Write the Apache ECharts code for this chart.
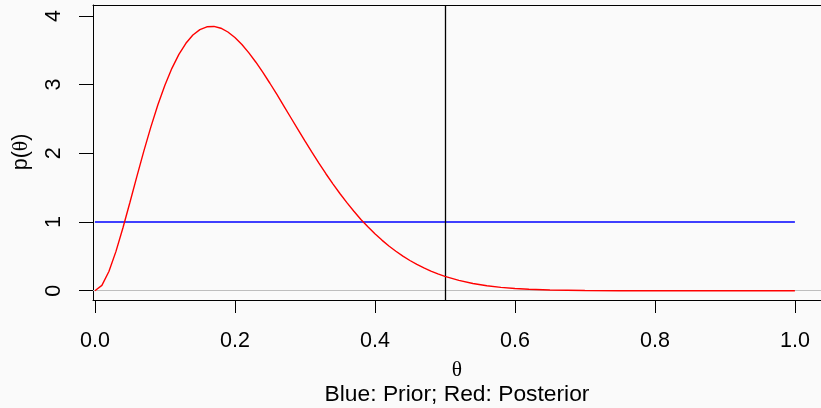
<!DOCTYPE html>
<html><head><meta charset="utf-8">
<script src="https://cdn.jsdelivr.net/npm/echarts@6/dist/echarts.min.js"></script>
<style>html,body{margin:0;padding:0;background:#fafafa}#c{width:821px;height:408px}</style>
</head><body><div id="c"></div>
<script>
// Posterior density (theta, p(theta))
const thetaPost = [0.00,0.01,0.02,0.03,0.04,0.05,0.06,0.07,0.08,0.09,0.10,0.11,0.12,0.13,0.14,0.15,0.16,0.17,0.18,0.19,0.20,0.21,0.22,0.23,0.24,0.25,0.26,0.27,0.28,0.29,0.30,0.31,0.32,0.33,0.34,0.35,0.36,0.37,0.38,0.39,0.40,0.41,0.42,0.43,0.44,0.45,0.46,0.47,0.48,0.49,0.50,0.52,0.54,0.56,0.58,0.60,0.62,0.65,0.70,0.75,0.80,0.90,1.00];
const posterior = [0,0.078,0.280,0.569,0.913,1.284,1.664,2.035,2.385,2.706,2.992,3.237,3.441,3.602,3.722,3.801,3.842,3.847,3.821,3.766,3.685,3.583,3.462,3.326,3.178,3.020,2.857,2.688,2.518,2.349,2.181,2.017,1.857,1.703,1.556,1.415,1.282,1.157,1.037,0.931,0.830,0.737,0.652,0.574,0.504,0.440,0.383,0.332,0.286,0.245,0.210,0.151,0.105,0.072,0.049,0.032,0.021,0.010,0.0025,0.0005,0.0001,0,0];
// Prior (uniform)
const thetaPrior = [0, 1];
const prior = [1, 1];
const xTicks = [0, 0.2, 0.4, 0.6, 0.8, 1.0];
const yTicks = [0, 1, 2, 3, 4];
const vLineX = 0.5;
const hLineY = 0;

const SANS = "'Liberation Sans', Arial, sans-serif";
const SERIF = "'Liberation Serif', 'DejaVu Serif', serif";
const FS = 21.5;
const XMIN = -0.0027, XMAX = 1.0373;
const axisLineStyle = {show: true, onZero: false, lineStyle: {color: '#000', width: 1}};

const chart = echarts.init(document.getElementById('c'), null, {renderer: 'canvas'});
chart.setOption({
  backgroundColor: '#fafafa',
  animation: false,
  grid: {left: 93, top: 5, width: 728, height: 295, show: false},
  xAxis: [{
    type: 'value', min: XMIN, max: XMAX, position: 'bottom',
    splitLine: {show: false},
    axisLine: axisLineStyle,
    axisTick: {show: true, length: 13, lineStyle: {color: '#000', width: 1}, customValues: xTicks},
    axisLabel: {customValues: xTicks, margin: 30, color: '#000', fontFamily: SANS, fontSize: FS,
      formatter: v => v.toFixed(1)}
  }, {
    type: 'value', min: XMIN, max: XMAX, position: 'top',
    splitLine: {show: false}, axisLine: axisLineStyle, axisTick: {show: false}, axisLabel: {show: false}
  }],
  yAxis: {
    type: 'value', min: -0.135, max: 4.159, position: 'left',
    splitLine: {show: false},
    axisLine: axisLineStyle,
    axisTick: {show: true, length: 14, lineStyle: {color: '#000', width: 1}, customValues: yTicks},
    axisLabel: {customValues: yTicks, rotate: 90, margin: 28, color: '#000', fontFamily: SANS, fontSize: FS,
      formatter: v => String(v)}
  },
  graphic: [
    {type: 'text', x: 21, y: 152, rotation: Math.PI / 2,
      style: {text: '{a|p(}{b|θ}{a|)}', align: 'center', verticalAlign: 'middle',
        rich: {a: {fontFamily: SANS, fontSize: FS, fill: '#000'}, b: {fontFamily: SERIF, fontSize: FS, fill: '#000'}}}},
    {type: 'text', x: 457, y: 370, style: {text: 'θ', align: 'center', verticalAlign: 'middle', fontFamily: SERIF, fontSize: FS, fill: '#000'}},
    {type: 'text', x: 457, y: 395, style: {text: 'Blue: Prior; Red: Posterior', align: 'center', verticalAlign: 'middle', fontFamily: SANS, fontSize: 22.8, fill: '#000'}}
  ],
  series: [
    {type: 'line', data: [], z: 1,
      markLine: {silent: true, symbol: 'none', label: {show: false}, animation: false,
        data: [{yAxis: hLineY, lineStyle: {color: '#bebebe', width: 1.2, type: 'solid'}},
               {xAxis: vLineX, lineStyle: {color: '#000', width: 1.3, type: 'solid'}}]}},
    {type: 'line', data: thetaPrior.map((t, i) => [t, prior[i]]), showSymbol: false, lineStyle: {color: '#0000ff', width: 1.4}, z: 3},
    {type: 'line', data: thetaPost.map((t, i) => [t, posterior[i]]), showSymbol: false, lineStyle: {color: '#ff0000', width: 1.4}, z: 5}
  ]
});
</script></body></html>
